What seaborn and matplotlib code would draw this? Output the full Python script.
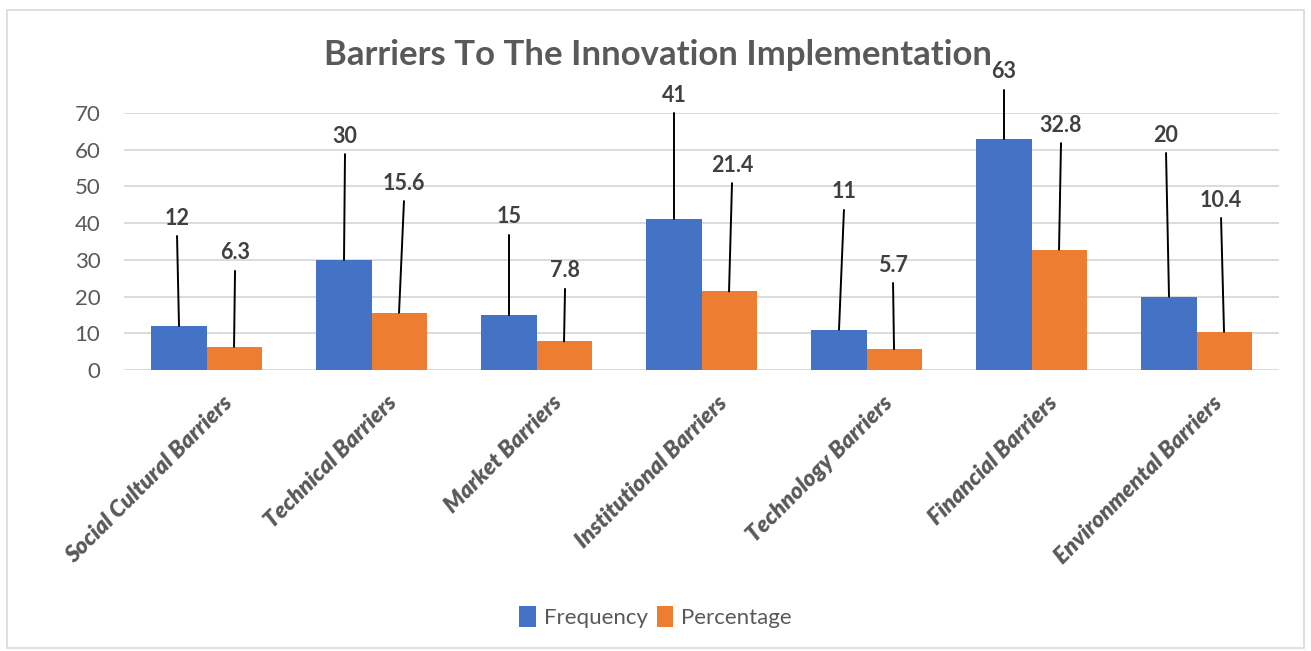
import matplotlib
matplotlib.use("Agg")
import matplotlib.pyplot as plt
import matplotlib.transforms as mtransforms
import seaborn as sns
import pandas as pd
from matplotlib.patches import Rectangle

# Survey results
categories = ["Social Cultural Barriers", "Technical Barriers", "Market Barriers",
              "Institutional Barriers", "Technology Barriers", "Financial Barriers",
              "Environmental Barriers"]
frequency = [12, 30, 15, 41, 11, 63, 20]
percentage = [6.3, 15.6, 7.8, 21.4, 5.7, 32.8, 10.4]
series_names = ["Frequency", "Percentage"]
y_ticks = [0, 10, 20, 30, 40, 50, 60, 70]

# Callout placement (label height in data units and small horizontal nudges)
callout_freq_y = [41.4, 63.7, 41.7, 74.9, 48.5, 81.2, 64.0]
callout_pct_y = [31.9, 50.9, 27.0, 55.8, 28.6, 66.7, 46.3]
callout_freq_dx = [-0.012, 0.006, 0.0, 0.0, 0.03, 0.0, -0.018]
callout_pct_dx = [0.006, 0.03, 0.006, 0.018, -0.006, 0.012, -0.018]

df = pd.DataFrame({
    "category": categories * 2,
    "value": frequency + percentage,
    "series": [series_names[0]] * len(categories) + [series_names[1]] * len(categories),
})

sns.set_theme(style="white")
plt.rcParams["font.family"] = ["Lato", "DejaVu Sans"]

fig = plt.figure(figsize=(13.11, 6.51), dpi=100)
ax = fig.add_axes([0.0946, 0.4316, 0.881, 0.3948])

palette = {"Frequency": "#4472C4", "Percentage": "#ED7D31"}
sns.barplot(data=df, x="category", y="value", hue="series", order=categories,
            hue_order=series_names, palette=palette, width=0.667, gap=0,
            saturation=1, ax=ax, errorbar=None, zorder=3, linewidth=0)

ax.set_ylim(0, 70)
ax.set_xlim(-0.5, len(categories) - 0.5)
ax.set_yticks(y_ticks)
ax.set_yticklabels([str(t) for t in y_ticks], fontsize=16, color="#595959")
ax.yaxis.grid(True, color="#D9D9D9", linewidth=1.3, zorder=0)
ax.set_axisbelow(True)
for s in ax.spines.values():
    s.set_visible(False)
ax.tick_params(axis="both", length=0)
ax.tick_params(axis="y", pad=17)
ax.set_xlabel("")
ax.set_ylabel("")
ax.set_xticks(range(len(categories)))
ax.set_xticklabels(categories, rotation=45, ha="right", rotation_mode="anchor",
                   fontsize=16.5, fontweight="heavy", fontstyle="italic", color="#595959")
ax.tick_params(axis="x", pad=16)
shift = mtransforms.ScaledTranslation(0.15, 0, fig.dpi_scale_trans)
for lbl in ax.get_xticklabels():
    lbl.set_transform(lbl.get_transform() + shift)

# Callouts with leader lines
for container, vals, ys, dxs in zip(ax.containers[:2], [frequency, percentage],
                                     [callout_freq_y, callout_pct_y],
                                     [callout_freq_dx, callout_pct_dx]):
    for bar, v, ly, dx in zip(container, vals, ys, dxs):
        cx = bar.get_x() + bar.get_width() / 2
        top = bar.get_height()
        lx = cx + dx
        ax.plot([lx, cx], [ly - 4.9, top], color="black", linewidth=1.4,
                clip_on=False, zorder=4)
        ax.text(lx, ly, f"{v:g}", ha="center", va="center", fontsize=15.5,
                fontweight="bold", color="#404040", clip_on=False, zorder=5)

fig.text(0.502, 0.9155, "Barriers To The Innovation Implementation", ha="center",
         va="center", fontsize=25, fontweight="bold", color="#595959")

sns.move_legend(ax, "center", bbox_to_anchor=(0.5, 0.052), bbox_transform=fig.transFigure,
                ncol=2, frameon=False, title=None, fontsize=16, handlelength=0.75,
                handleheight=1.1, handletextpad=0.35, columnspacing=0.4)
for t in ax.get_legend().get_texts():
    t.set_color("#595959")

fig.patches.append(Rectangle((7 / 1311, 0.005), 1 - 14 / 1311, 1 - 10 / 651 - 0.005,
                             transform=fig.transFigure, fill=False,
                             edgecolor="#D9D9D9", linewidth=1.2))

fig.savefig("out.png", dpi=100, facecolor="white")
